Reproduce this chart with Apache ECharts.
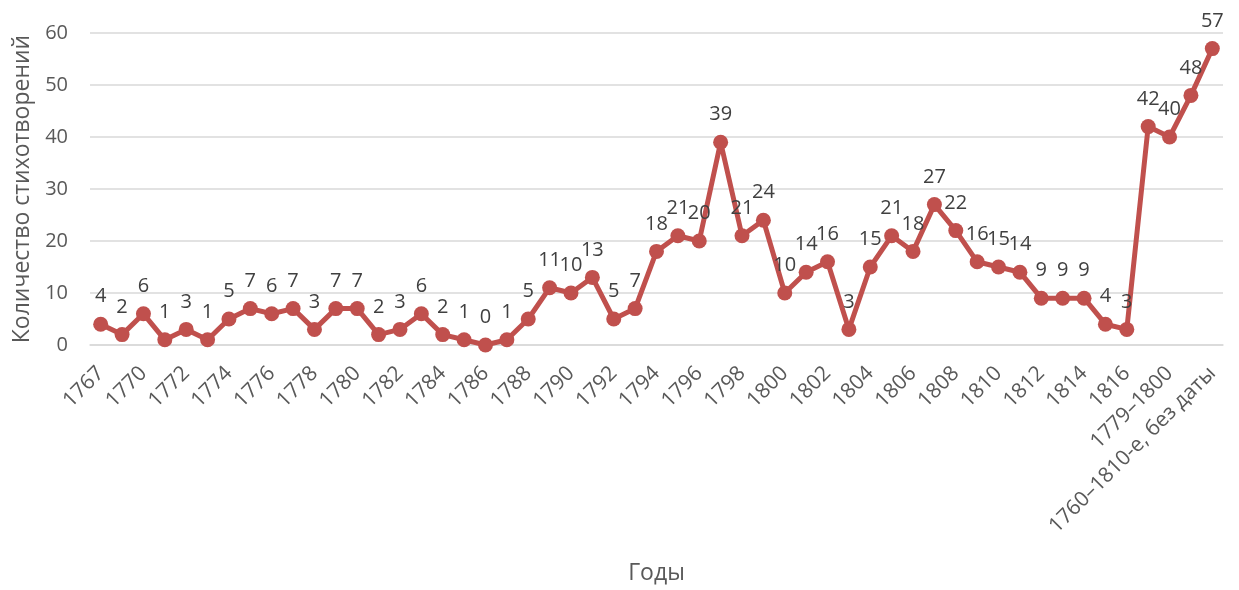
<!DOCTYPE html>
<html>
<head>
<meta charset="utf-8">
<script src="https://cdn.jsdelivr.net/npm/echarts@6/dist/echarts.min.js"></script>
<style>
  html, body { margin: 0; padding: 0; background: #fff; }
  #chart { width: 1239px; height: 590px; }
</style>
</head>
<body>
<div id="chart"></div>
<script>
// годы / группы
const years = [
  '1767', '1769', '1770', '1771', '1772', '1773', '1774', '1775', '1776', '1777',
  '1778', '1779', '1780', '1781', '1782', '1783', '1784', '1785', '1786', '1787',
  '1788', '1789', '1790', '1791', '1792', '1793', '1794', '1795', '1796', '1797',
  '1798', '1799', '1800', '1801', '1802', '1803', '1804', '1805', '1806', '1807',
  '1808', '1809', '1810', '1811', '1812', '1813', '1814', '1815', '1816',
  '1767–1779', '1779–1800', '1800–1816', '1760–1810-е, без даты'
]
// количество стихотворений
const counts = [
  4, 2, 6, 1, 3, 1, 5, 7, 6, 7,
  3, 7, 7, 2, 3, 6, 2, 1, 0, 1,
  5, 11, 10, 13, 5, 7, 18, 21, 20, 39,
  21, 24, 10, 14, 16, 3, 15, 21, 18, 27,
  22, 16, 15, 14, 9, 9, 9, 4, 3,
  42, 40, 48, 57
]
const yTicks = { min: 0, max: 60, interval: 10 }

const chart = echarts.init(document.getElementById('chart'))
const font = "'Open Sans', 'Noto Sans', sans-serif"

chart.setOption({
  animation: false,
  textStyle: { fontFamily: font },
  grid: { left: 90, right: 16, top: 33, bottom: 245 },
  xAxis: {
    type: 'category',
    data: years,
    boundaryGap: true,
    name: 'Годы',
    nameLocation: 'middle',
    nameGap: 217,
    nameTextStyle: { fontSize: 23, color: '#595959', fontFamily: font },
    axisLine: { show: true, lineStyle: { color: '#d9d9d9', width: 1.5 } },
    axisTick: { show: false },
    axisLabel: {
      interval: 1,
      rotate: 45,
      margin: 25,
      fontSize: 21,
      color: '#595959',
      fontFamily: font
    }
  },
  yAxis: {
    type: 'value',
    min: yTicks.min,
    max: yTicks.max,
    interval: yTicks.interval,
    name: 'Количество стихотворений',
    nameLocation: 'middle',
    nameGap: 56,
    nameTextStyle: { fontSize: 23, color: '#595959', fontFamily: font },
    axisLine: { show: false },
    axisTick: { show: false },
    axisLabel: { fontSize: 20, color: '#595959', margin: 22, fontFamily: font },
    splitLine: { lineStyle: { color: '#d9d9d9', width: 1.5 } }
  },
  series: [
    {
      type: 'line',
      data: counts,
      symbol: 'circle',
      symbolSize: 15,
      showAllSymbol: true,
      lineStyle: { color: '#c0504d', width: 5 },
      itemStyle: { color: '#c0504d' },
      label: {
        show: true,
        position: 'top',
        distance: 10,
        fontSize: 20,
        color: '#404040',
        fontFamily: font
      }
    }
  ]
})
</script>
</body>
</html>
